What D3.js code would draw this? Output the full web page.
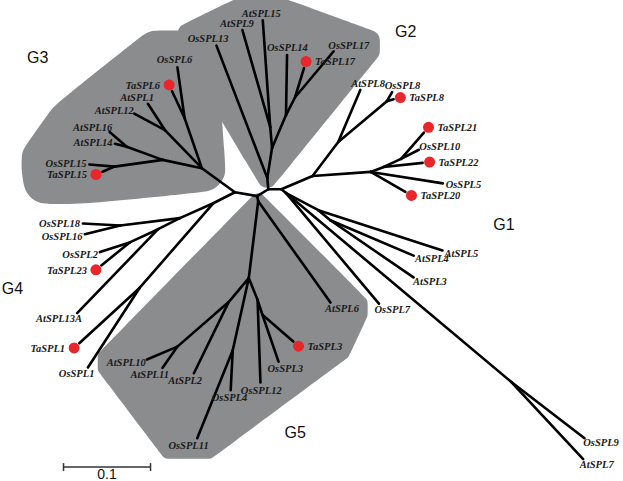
<!DOCTYPE html>
<html lang="en">
<head>
<meta charset="UTF-8">
<title>SPL phylogenetic tree</title>
<script src="https://d3js.org/d3.v7.min.js"></script>
<style>
  body { margin: 0; background: #fff; }
  svg { display: block; }
</style>
</head>
<body>
<div id="chart"></div>
<script>
// branch = [child, parent, length (subst./site), angle in degrees (screen, 0 = right, +down)]
const coreBranches = [
  ["B", "A", 0.026, 10], ["C", "B", 0.015, -32], ["D", "C", 0.015, 0], ["E", "B", 0.006, 79]
];
const g3Branches = [
  ["N3", "A", 0.047, -144],
  ["g3a", "N3", 0.061, -109], ["OsSPL6", "g3a", 0.059, -98], ["TaSPL6", "g3a", 0.034, -115],
  ["g3b", "N3", 0.061, -134], ["AtSPL1", "g3b", 0.036, -123], ["AtSPL12", "g3b", 0.040, -152],
  ["g3c", "N3", 0.046, -168], ["g3d", "g3c", 0.044, -160],
  ["AtSPL16", "g3d", 0.026, -139], ["AtSPL14", "g3d", 0.014, -166],
  ["g3e", "g3c", 0.056, 172], ["OsSPL15", "g3e", 0.029, -175], ["TaSPL15", "g3e", 0.015, 157]
];
const g2Branches = [
  ["G2r", "C", 0.013, -95], ["OsSPL13", "G2r", 0.163, -111],
  ["g2b", "G2r", 0.035, -81], ["g2c", "g2b", 0.024, -95],
  ["AtSPL9", "g2c", 0.116, -106], ["AtSPL15", "g2c", 0.123, -94],
  ["g2d", "g2b", 0.041, -67], ["OsSPL14", "g2d", 0.069, -89],
  ["g2e", "g2d", 0.023, -63], ["TaSPL17", "g2e", 0.035, -73], ["OsSPL17", "g2e", 0.069, -50]
];
const g1Branches = [
  ["g1a", "D", 0.039, -23], ["g1b", "g1a", 0.049, -53], ["AtSPL8", "g1b", 0.065, -67],
  ["g1c", "g1b", 0.073, -40], ["OsSPL8", "g1c", 0.012, -60], ["TaSPL8", "g1c", 0.008, -15],
  ["g1d", "g1a", 0.067, -4], ["g1e", "g1d", 0.016, -21], ["g1f", "g1e", 0.022, -25],
  ["TaSPL21", "g1f", 0.040, -49], ["OsSPL10", "g1f", 0.023, -27], ["TaSPL22", "g1e", 0.045, -6],
  ["OsSPL5", "g1d", 0.084, 9], ["TaSPL20", "g1d", 0.046, 30],
  ["D2", "D", 0.007, 39], ["OsSPL7", "D2", 0.166, 50],
  ["g1h", "D2", 0.338, 40], ["OsSPL9", "g1h", 0.106, 37.5], ["AtSPL7", "g1h", 0.121, 47],
  ["g1g", "D2", 0.042, 28], ["AtSPL5", "g1g", 0.150, 18],
  ["g1i", "g1g", 0.018, 40], ["AtSPL4", "g1i", 0.104, 23], ["AtSPL3", "g1i", 0.116, 34.5]
];
const g4Branches = [
  ["g4a", "A", 0.028, 153], ["g4b", "g4a", 0.042, 156],
  ["g4d", "g4b", 0.069, 173], ["OsSPL18", "g4d", 0.043, -177], ["OsSPL16", "g4d", 0.042, 166],
  ["g4e", "g4b", 0.028, 153], ["g4f", "g4e", 0.036, 155],
  ["OsSPL2", "g4f", 0.036, 162], ["TaSPL23", "g4f", 0.042, 141], ["AtSPL13A", "g4e", 0.134, 134],
  ["g4c", "g4a", 0.129, 131], ["TaSPL1", "g4c", 0.094, 137.5], ["OsSPL1", "g4c", 0.109, 123]
];
const g5Branches = [
  ["g5a", "E", 0.089, 97], ["AtSPL6", "E", 0.143, 54.5],
  ["g5b", "g5a", 0.036, 130], ["g5f", "g5b", 0.078, 139],
  ["AtSPL10", "g5f", 0.038, 157], ["AtSPL11", "g5f", 0.030, 125], ["AtSPL2", "g5b", 0.091, 116],
  ["g5g", "g5a", 0.085, 102.5], ["OsSPL4", "g5g", 0.046, 93], ["OsSPL11", "g5g", 0.109, 112],
  ["g5c", "g5a", 0.027, 68], ["OsSPL12", "g5c", 0.095, 88],
  ["g5d", "g5c", 0.018, 72], ["OsSPL3", "g5d", 0.057, 71], ["TaSPL3", "g5d", 0.047, 41]
];
const groupNames = ["G1", "G2", "G3", "G4", "G5"];
const shadedGroups = [["G3", "N3"], ["G2", "G2r"], ["G5", "E"]];
const scaleBarValue = 0.1;

// layout settings (tree units unless noted)
var groupLabelAt = { G1: [0.297, 0.043], G2: [0.184, -0.179], G3: [-0.239, -0.148], G4: [-0.268, 0.117], G5: [0.057, 0.282] };
var blobPad = { G3: 24, G2: 10, G5: 8 };   // px
var scaleBarAt = [-0.197, 0.316];

var width = 623, height = 481;
var x = d3.scaleLinear().domain([-0.270, 0.446]).range([0, width]);
var y = d3.scaleLinear().domain([-0.221, 0.332]).range([0, height]);

var svg = d3.select("#chart").append("svg")
    .attr("width", width)
    .attr("height", height);

var blobLayer = svg.append("g");
var edgeLayer = svg.append("g");
var leafLayer = svg.append("g");

// node positions from branch lengths / angles
var branches = [].concat(coreBranches, g3Branches, g2Branches, g1Branches, g4Branches, g5Branches);
var pos = { A: { x: 0, y: 0 } };
var kids = {};
branches.forEach(function(b) {
  var p = pos[b[1]], a = b[3] * Math.PI / 180;
  pos[b[0]] = { x: p.x + b[2] * Math.cos(a), y: p.y + b[2] * Math.sin(a), parent: b[1], angle: a };
  (kids[b[1]] = kids[b[1]] || []).push(b[0]);
});

edgeLayer.selectAll("line")
  .data(branches)
  .enter().append("line")
  .attr("x1", function(d) { return x(pos[d[1]].x); })
  .attr("y1", function(d) { return y(pos[d[1]].y); })
  .attr("x2", function(d) { return x(pos[d[0]].x); })
  .attr("y2", function(d) { return y(pos[d[0]].y); })
  .attr("stroke", "#000")
  .attr("stroke-width", 2.6)
  .attr("stroke-linecap", "round");

var leaves = branches.map(function(b) { return b[0]; }).filter(function(id) { return !kids[id]; });
var extra = {};   // label boxes / dots per leaf, used for shading

leaves.forEach(function(id) {
  var n = pos[id], tx = x(n.x), ty = y(n.y);
  var ux = Math.cos(n.angle), uy = Math.sin(n.angle);
  var t = leafLayer.append("text")
    .text(id)
    .attr("font-family", "'Liberation Serif', serif")
    .attr("font-style", "italic")
    .attr("font-weight", "bold")
    .attr("font-size", "10.5px")
    .attr("fill", "#1a1a1a")
    .attr("dy", "0.35em");
  var pts = [];
  if (id.indexOf("Ta") === 0) {
    var cx = tx + ux * 7, cy = ty + uy * 7;
    leafLayer.append("circle")
      .attr("cx", cx).attr("cy", cy).attr("r", 5.5)
      .attr("fill", "#e8262b");
    t.attr("text-anchor", ux >= 0 ? "start" : "end")
      .attr("x", cx + (ux >= 0 ? 9 : -9))
      .attr("y", cy);
    pts.push([cx, cy]);
  } else {
    var w = t.node().getComputedTextLength() / 2, h = 4.5, gap = 3;
    t.attr("text-anchor", "middle")
      .attr("x", tx + ux * (w + gap))
      .attr("y", ty + uy * (h + gap));
  }
  var bb = t.node().getBBox();
  pts.push([bb.x, bb.y], [bb.x + bb.width, bb.y], [bb.x, bb.y + bb.height], [bb.x + bb.width, bb.y + bb.height]);
  extra[id] = pts;
});

// shaded clades
function subtree(id) {
  var out = [id];
  (kids[id] || []).forEach(function(k) { out = out.concat(subtree(k)); });
  return out;
}
shadedGroups.forEach(function(g) {
  var pad = blobPad[g[0]], pts = [];
  subtree(g[1]).forEach(function(id) {
    var base = [[x(pos[id].x), y(pos[id].y)]].concat(extra[id] || []);
    base.forEach(function(p) {
      for (var i = 0; i < 24; i++) {
        var a = i * Math.PI / 12;
        pts.push([p[0] + pad * Math.cos(a), p[1] + pad * Math.sin(a)]);
      }
    });
  });
  var hull = d3.polygonHull(pts);
  blobLayer.append("path")
    .attr("d", d3.line().curve(d3.curveBasisClosed)(hull))
    .attr("fill", "#8b8c8e");
});

// clade names
svg.selectAll(".grp")
  .data(groupNames)
  .enter().append("text")
  .attr("class", "grp")
  .attr("x", function(d) { return x(groupLabelAt[d][0]); })
  .attr("y", function(d) { return y(groupLabelAt[d][1]); })
  .attr("font-family", "'Liberation Sans', Arial, sans-serif")
  .attr("font-size", "16px")
  .attr("fill", "#111")
  .text(function(d) { return d; });

// scale bar
var sbx0 = x(scaleBarAt[0]), sbx1 = x(scaleBarAt[0] + scaleBarValue), sby = y(scaleBarAt[1]);
var sb = svg.append("g").attr("stroke", "#333").attr("stroke-width", 1.5);
sb.append("line").attr("x1", sbx0).attr("x2", sbx1).attr("y1", sby).attr("y2", sby);
sb.append("line").attr("x1", sbx0).attr("x2", sbx0).attr("y1", sby - 4).attr("y2", sby + 4);
sb.append("line").attr("x1", sbx1).attr("x2", sbx1).attr("y1", sby - 4).attr("y2", sby + 4);
svg.append("text")
  .attr("x", (sbx0 + sbx1) / 2)
  .attr("y", sby + 12)
  .attr("text-anchor", "middle")
  .attr("font-family", "'Liberation Sans', Arial, sans-serif")
  .attr("font-size", "14px")
  .attr("fill", "#111")
  .text(scaleBarValue);
</script>
</body>
</html>
